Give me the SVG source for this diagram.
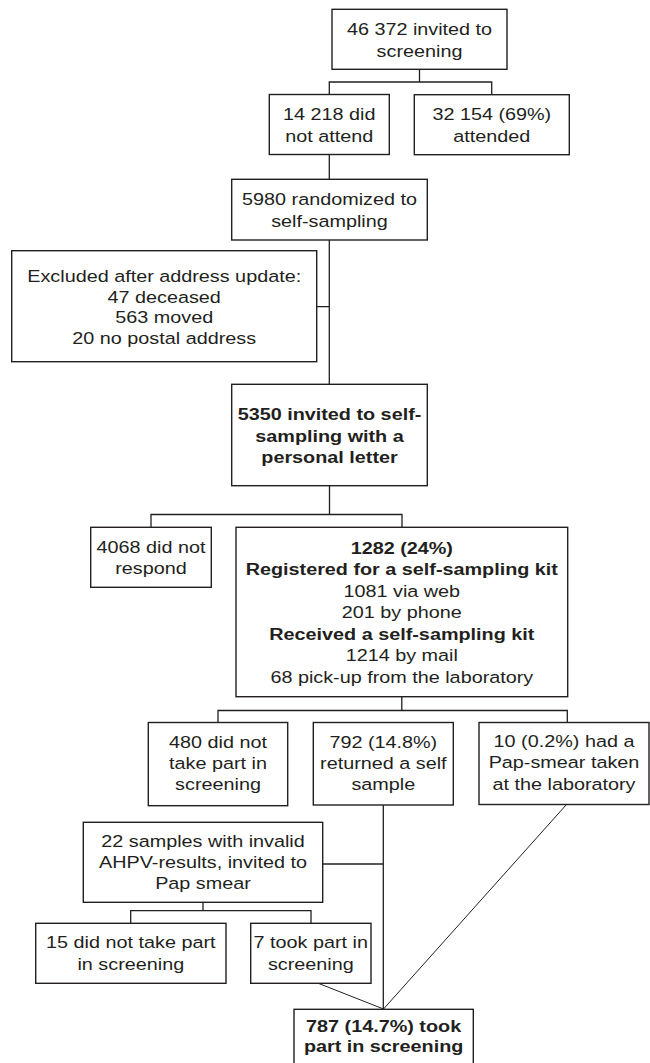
<svg xmlns="http://www.w3.org/2000/svg" width="650" height="1063" viewBox="0 0 650 1063">
<style>
.box{fill:#fff;stroke:#231f20;stroke-width:1.4}
.con{fill:none;stroke:#231f20;stroke-width:1.3}
.diag{fill:none;stroke:#231f20;stroke-width:1}
.t{font-family:"Liberation Sans",Arial,sans-serif;font-size:17px;fill:#231f20;text-anchor:middle}
.b{font-weight:bold}
</style>
<rect width="650" height="1063" fill="#fff"/>
<g id="connectors">
<path class="con" d="M419.5 69.3V82M329.3 94.5V82H491.7V94.5"/>
<path class="con" d="M329.3 154.5V179.3"/>
<path class="con" d="M329.3 240V384.3M316.7 306.7H329.3"/>
<path class="con" d="M329.5 485.7V514.5M151 527.3V514.5H402V527.3"/>
<path class="con" d="M401.8 696.7V710.5M218 722.5V710.5H567.3V722.5"/>
<path class="con" d="M383.3 805V1009M322.7 864H383.3"/>
<path class="con" d="M203 902.3V910.7M130.7 923.3V910.7H311V923.3"/>
<path class="diag" d="M318.3 983.3L383.5 1009M566.5 804.5L383.5 1009"/>
</g>
<g id="n1"><rect class="box" x="332" y="9.3" width="175" height="60"/>
<text class="t" transform="matrix(1.165 0 0 1 419.5 0)"><tspan x="0" y="35">46 372 invited to</tspan><tspan x="0" y="56.7">screening</tspan></text></g>
<g id="n2"><rect class="box" x="269.3" y="94.5" width="120" height="60"/>
<text class="t" transform="matrix(1.165 0 0 1 329.3 0)"><tspan x="0" y="120">14 218 did</tspan><tspan x="0" y="141.7">not attend</tspan></text></g>
<g id="n3"><rect class="box" x="414.3" y="94.7" width="155" height="60"/>
<text class="t" transform="matrix(1.165 0 0 1 491.8 0)"><tspan x="0" y="120">32 154 (69%)</tspan><tspan x="0" y="141.7">attended</tspan></text></g>
<g id="n4"><rect class="box" x="231.7" y="179.3" width="195.6" height="60.7"/>
<text class="t" transform="matrix(1.165 0 0 1 329.5 0)"><tspan x="0" y="205.5">5980 randomized to</tspan><tspan x="0" y="227.5">self-sampling</tspan></text></g>
<g id="n5"><rect class="box" x="11.7" y="250.7" width="305" height="111"/>
<text class="t" transform="matrix(1.165 0 0 1 164.2 0)"><tspan x="0" y="281.7">Excluded after address update:</tspan><tspan x="0" y="302.7">47 deceased</tspan><tspan x="0" y="323.3">563 moved</tspan><tspan x="0" y="344.3">20 no postal address</tspan></text></g>
<g id="n6"><rect class="box" x="231.7" y="384.3" width="195.6" height="101.4"/>
<text class="t b" transform="matrix(1.165 0 0 1 329.5 0)"><tspan x="0" y="420.5">5350 invited to self-</tspan><tspan x="0" y="441.7">sampling with a</tspan><tspan x="0" y="463.3">personal letter</tspan></text></g>
<g id="n7"><rect class="box" x="90.7" y="527.3" width="120.6" height="60"/>
<text class="t" transform="matrix(1.165 0 0 1 151 0)"><tspan x="0" y="553.3">4068 did not</tspan><tspan x="0" y="574">respond</tspan></text></g>
<g id="n8"><rect class="box" x="236" y="527.3" width="331.7" height="169.4"/>
<text class="t" transform="matrix(1.165 0 0 1 401.8 0)"><tspan class="b" x="0" y="554">1282 (24%)</tspan><tspan class="b" x="0" y="575.5">Registered for a self-sampling kit</tspan><tspan x="0" y="597">1081 via web</tspan><tspan x="0" y="618.5">201 by phone</tspan><tspan class="b" x="0" y="640">Received a self-sampling kit</tspan><tspan x="0" y="661.5">1214 by mail</tspan><tspan x="0" y="683">68 pick-up from the laboratory</tspan></text></g>
<g id="n9"><rect class="box" x="148.3" y="722.5" width="139.4" height="83.2"/>
<text class="t" transform="matrix(1.165 0 0 1 218 0)"><tspan x="0" y="748.5">480 did not</tspan><tspan x="0" y="769.3">take part in</tspan><tspan x="0" y="790">screening</tspan></text></g>
<g id="n10"><rect class="box" x="313.3" y="722.5" width="140" height="82.5"/>
<text class="t" transform="matrix(1.165 0 0 1 383.3 0)"><tspan x="0" y="748.5">792 (14.8%)</tspan><tspan x="0" y="769.3">returned a self</tspan><tspan x="0" y="790">sample</tspan></text></g>
<g id="n11"><rect class="box" x="479" y="722.5" width="170" height="82"/>
<text class="t" transform="matrix(1.165 0 0 1 564 0)"><tspan x="0" y="747">10 (0.2%) had a</tspan><tspan x="0" y="768.3">Pap-smear taken</tspan><tspan x="0" y="790">at the laboratory</tspan></text></g>
<g id="n12"><rect class="box" x="83.3" y="822.3" width="239.4" height="80"/>
<text class="t" transform="matrix(1.165 0 0 1 203 0)"><tspan x="0" y="847.3">22 samples with invalid</tspan><tspan x="0" y="868.3">AHPV-results, invited to</tspan><tspan x="0" y="889.3">Pap smear</tspan></text></g>
<g id="n13"><rect class="box" x="35.7" y="923.3" width="190.3" height="60"/>
<text class="t" transform="matrix(1.165 0 0 1 130.8 0)"><tspan x="0" y="948.3">15 did not take part</tspan><tspan x="0" y="970">in screening</tspan></text></g>
<g id="n14"><rect class="box" x="250.7" y="923.3" width="120.3" height="60"/>
<text class="t" transform="matrix(1.165 0 0 1 310.8 0)"><tspan x="0" y="948.3">7 took part in</tspan><tspan x="0" y="970">screening</tspan></text></g>
<g id="n15"><rect class="box" x="294" y="1009.3" width="179.3" height="62"/>
<text class="t b" transform="matrix(1.165 0 0 1 383.6 0)"><tspan x="0" y="1032.5">787 (14.7%) took</tspan><tspan x="0" y="1052.5">part in screening</tspan></text></g>
</svg>
